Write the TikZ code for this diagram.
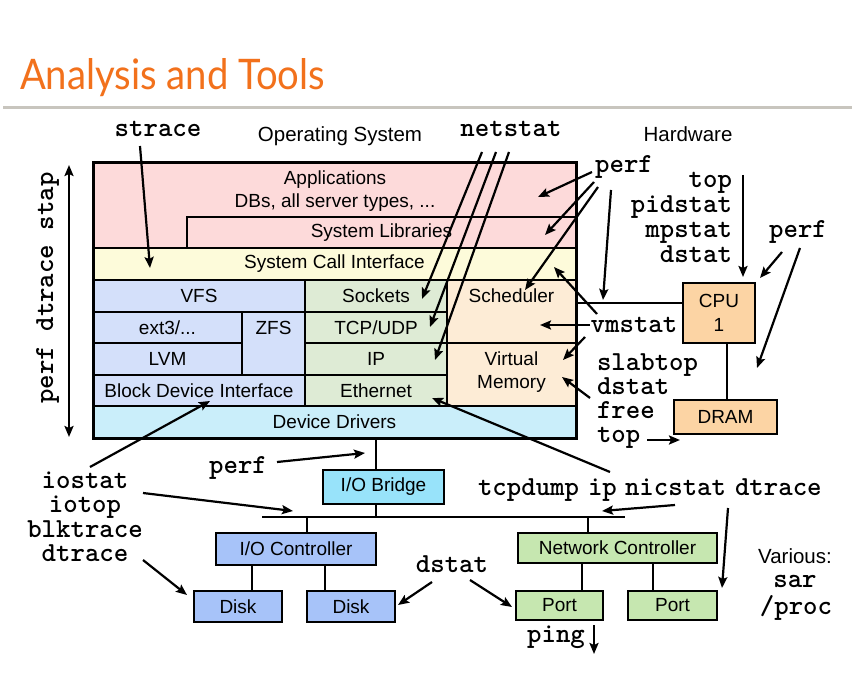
\documentclass[tikz,border=0pt]{standalone}
\usepackage{fontspec}
\setmainfont{Liberation Sans}
\newfontfamily\titlefam{Lato}
\usetikzlibrary{arrows.meta,calc}
\definecolor{cApp}{RGB}{253,218,218}
\definecolor{cSci}{RGB}{253,251,218}
\definecolor{cBlue}{RGB}{212,224,250}
\definecolor{cGreen}{RGB}{222,235,213}
\definecolor{cOrange}{RGB}{253,236,214}
\definecolor{cDD}{RGB}{202,238,250}
\definecolor{cHw}{RGB}{252,212,164}
\definecolor{cBridge}{RGB}{152,227,250}
\definecolor{cIO}{RGB}{167,195,249}
\definecolor{cNet}{RGB}{198,231,176}
\definecolor{titleorange}{RGB}{242,113,28}
\definecolor{rulegray}{RGB}{200,197,190}
\begin{document}
\begin{tikzpicture}[x=1pt,y=-1pt,
  every node/.style={inner sep=0pt,outer sep=0pt},
  sans/.style={font=\fontsize{19}{23}\selectfont},
  lbl/.style={font=\fontsize{20.5}{24}\selectfont},
  tool/.style={font=\fontsize{27.5}{24.5}\selectfont\ttfamily\bfseries},
  layer/.style={draw,line width=2pt,anchor=north west,sans},
  hwbox/.style={draw,line width=2.6pt,anchor=north west,sans},
  conn/.style={line width=2pt},
  arr/.style={line width=2.2pt,-{Stealth[length=11pt,width=9pt,inset=2pt]}},
  darr/.style={line width=2.2pt,{Stealth[length=11pt,width=9pt,inset=2pt]}-{Stealth[length=11pt,width=9pt,inset=2pt]}},
]
\path[use as bounding box] (0,0) rectangle (860,682);

% title
\node[anchor=base west,text=titleorange] (title) at (20,90) {\resizebox{305pt}{31pt}{\titlefam Analysis and Tools}};
\coordinate (ruleL) at (3,108);
\coordinate (ruleR) at (852,108);
\draw[line width=3pt,rulegray] (ruleL) -- (ruleR);

% headings
\node[lbl,anchor=base] (ostitle) at (340,142) {Operating System};
\node[lbl,anchor=base] (hwtitle) at (688,142) {Hardware};

% OS stack
\node[layer,fill=cApp,minimum width=483pt,minimum height=85pt] (apps) at (93,163) {};
\node[sans,align=center] (appstxt) at (335,191) {Applications\\DBs, all server types, ...};
\node[layer,fill=cApp,minimum width=389pt,minimum height=31pt] (syslib) at (187,217) {System Libraries};
\node[layer,fill=cSci,minimum width=483pt,minimum height=32pt] (sci) at (93,248) {System Call Interface};
\node[layer,fill=cBlue,minimum width=212pt,minimum height=32pt] (vfs) at (93,280) {VFS};
\node[layer,fill=cBlue,minimum width=149pt,minimum height=31pt] (ext3) at (93,312) {ext3/...};
\node[layer,fill=cBlue,minimum width=149pt,minimum height=32pt] (lvm) at (93,343) {LVM};
\node[layer,fill=cBlue,minimum width=63pt,minimum height=63pt] (zfs) at (242,312) {};
\node[sans] (zfstxt) at (273.5,328) {ZFS};
\node[layer,fill=cBlue,minimum width=212pt,minimum height=31pt] (bdi) at (93,375) {Block Device Interface};
\node[layer,fill=cGreen,minimum width=142pt,minimum height=32pt] (sockets) at (305,280) {Sockets};
\node[layer,fill=cGreen,minimum width=142pt,minimum height=31pt] (tcp) at (305,312) {TCP/UDP};
\node[layer,fill=cGreen,minimum width=142pt,minimum height=32pt] (ip) at (305,343) {IP};
\node[layer,fill=cGreen,minimum width=142pt,minimum height=31pt] (eth) at (305,375) {Ethernet};
\node[layer,fill=cOrange,minimum width=129pt,minimum height=63pt] (sched) at (447,280) {};
\node[sans] (schedtxt) at (511.5,296) {Scheduler};
\node[layer,fill=cOrange,minimum width=129pt,minimum height=63pt] (vm) at (447,343) {};
\node[sans,align=center] (vmtxt) at (511.5,372) {Virtual\\Memory};
\node[layer,fill=cDD,minimum width=483pt,minimum height=32pt] (dd) at (93,406) {Device Drivers};
\node[draw,line width=3pt,minimum width=483pt,minimum height=275pt,anchor=north west] (os) at (93,163) {};

% hardware
\node[hwbox,fill=cHw,minimum width=72pt,minimum height=60pt,align=center,font=\fontsize{19}{24}\selectfont] (cpu) at (683,283) {CPU\\1};
\node[hwbox,fill=cHw,minimum width=103pt,minimum height=34pt] (dram) at (674,400) {DRAM};
\node[hwbox,fill=cBridge,minimum width=121pt,minimum height=34pt] (bridge) at (323,470) {I/O Bridge};
\node[hwbox,fill=cIO,minimum width=160pt,minimum height=32pt] (ioc) at (216,533) {I/O Controller};
\node[hwbox,fill=cIO,minimum width=88pt,minimum height=31pt] (disk1) at (194,591) {Disk};
\node[hwbox,fill=cIO,minimum width=88pt,minimum height=31pt] (disk2) at (307,591) {Disk};
\node[hwbox,fill=cNet,minimum width=199pt,minimum height=30pt] (nc) at (518,533) {Network Controller};
\node[hwbox,fill=cNet,minimum width=87pt,minimum height=29pt] (port1) at (516,591) {Port};
\node[hwbox,fill=cNet,minimum width=89pt,minimum height=29pt] (port2) at (628,591) {Port};

% plain connections
\coordinate (schedlink) at (576,303);
\draw[conn] (schedlink) -- (schedlink -| cpu.west);
\coordinate (memx) at (727,0);
\draw[conn] (cpu.south -| memx) -- (dram.north -| memx);
\coordinate (bx) at (376,0);
\draw[conn] (dd.south -| bx) -- (bridge.north -| bx);
\coordinate (busL) at (262,517);
\coordinate (busR) at (625,517);
\draw[conn] (busL) -- (busR);
\draw[conn] (bridge.south -| bx) -- (busL -| bx);
\coordinate (iox) at (307,0);
\draw[conn] (busL -| iox) -- (ioc.north -| iox);
\coordinate (d1x) at (252,0);
\coordinate (d2x) at (325,0);
\draw[conn] (ioc.south -| d1x) -- (disk1.north -| d1x);
\draw[conn] (ioc.south -| d2x) -- (disk2.north -| d2x);
\coordinate (ncx) at (588,0);
\draw[conn] (busL -| ncx) -- (nc.north -| ncx);
\coordinate (p1x) at (582,0);
\coordinate (p2x) at (653,0);
\draw[conn] (nc.south -| p1x) -- (port1.north -| p1x);
\draw[conn] (nc.south -| p2x) -- (port2.north -| p2x);

% tool labels
\node[tool,anchor=base] (strace) at (158,137) {strace};
\node[tool,anchor=base] (netstat) at (511,137) {netstat};
\node[tool,anchor=base] (perfA) at (624,173) {perf};
\node[tool,anchor=base east] (topA) at (732,188) {top};
\node[tool,anchor=base east] (pidstat) at (732,212) {pidstat};
\node[tool,anchor=base east] (mpstat) at (732,237) {mpstat};
\node[tool,anchor=base east] (dstatA) at (732,262) {dstat};
\node[tool,anchor=base] (perfB) at (798,237) {perf};
\node[tool,anchor=base] (vmstat) at (634,332) {vmstat};
\node[tool,anchor=base west] (slabtop) at (597,370) {slabtop};
\node[tool,anchor=base west] (dstatB) at (597,394) {dstat};
\node[tool,anchor=base west] (free) at (597,418) {free};
\node[tool,anchor=base west] (topB) at (597,442) {top};
\node[tool,anchor=base] (iostat) at (85,488) {iostat};
\node[tool,anchor=base] (iotop) at (85,512) {iotop};
\node[tool,anchor=base] (blktrace) at (85,537) {blktrace};
\node[tool,anchor=base] (dtraceA) at (85,561) {dtrace};
\node[tool,anchor=base] (perfC) at (238,473) {perf};
\node[tool,anchor=base west] (tcpdump) at (478,495) {tcpdump};
\node[tool,anchor=base west] (iptool) at (588,495) {ip};
\node[tool,anchor=base west] (nicstat) at (625,495) {nicstat};
\node[tool,anchor=base west] (dtraceB) at (735,495) {dtrace};
\node[lbl,anchor=base] (various) at (795,563) {Various:};
\node[tool,anchor=base] (sar) at (795,587) {sar};
\node[tool,anchor=base] (proc) at (796,614) {/proc};
\node[tool,anchor=base] (dstatC) at (452,572) {dstat};
\node[tool,anchor=base] (ping) at (556,642) {ping};
\node[tool,anchor=base,rotate=90] (pds) at (53,288) {perf dtrace stap};

% arrow end points
\coordinate (a1s) at (140,146);  \coordinate (a1e) at (150,268);
\coordinate (n1s) at (482,152);  \coordinate (n1e) at (422,299);
\coordinate (n2s) at (496,152);  \coordinate (n2e) at (430,327);
\coordinate (n3s) at (509,152);  \coordinate (n3e) at (435,360);
\coordinate (p1s) at (592,172);  \coordinate (p1e) at (538,197);
\coordinate (p2s) at (594,182);  \coordinate (p2e) at (545,235);
\coordinate (p3s) at (598,187);  \coordinate (p3e) at (525,290);
\coordinate (p4s) at (611,190);  \coordinate (p4e) at (603,300);
\coordinate (t1s) at (743,175);  \coordinate (t1e) at (743,277);
\coordinate (r1s) at (782,252);  \coordinate (r1e) at (760,278);
\coordinate (r2s) at (800,248);  \coordinate (r2e) at (757,368);
\coordinate (v1s) at (590,325);  \coordinate (v1e) at (540,325);
\coordinate (v2s) at (597,314);  \coordinate (v2e) at (554,267);
\coordinate (v3s) at (585,337);  \coordinate (v3e) at (563,360);
\coordinate (s1s) at (590,398);  \coordinate (s1e) at (562,377);
\coordinate (tps) at (647,440);  \coordinate (tpe) at (680,440);
\coordinate (i1s) at (90,467);   \coordinate (i1e) at (210,401);
\coordinate (i2s) at (143,493);  \coordinate (i2e) at (293,511);
\coordinate (i3s) at (143,560);  \coordinate (i3e) at (187,595);
\coordinate (pcs) at (277,462);  \coordinate (pce) at (365,453);
\coordinate (tds) at (610,472);  \coordinate (tde) at (432,398);
\coordinate (ncs) at (675,505);  \coordinate (nce) at (602,511);
\coordinate (dts) at (728,508);  \coordinate (dte) at (722,588);
\coordinate (ds1s) at (432,582); \coordinate (ds1e) at (398,605);
\coordinate (ds2s) at (470,580); \coordinate (ds2e) at (512,607);
\coordinate (pgs) at (594,625);  \coordinate (pge) at (594,654);
\coordinate (lvt) at (69,165);   \coordinate (lvb) at (69,437);

\draw[arr] (a1s) -- (a1e);
\draw[arr] (n1s) -- (n1e);
\draw[arr] (n2s) -- (n2e);
\draw[arr] (n3s) -- (n3e);
\draw[arr] (p1s) -- (p1e);
\draw[arr] (p2s) -- (p2e);
\draw[arr] (p3s) -- (p3e);
\draw[arr] (p4s) -- (p4e);
\draw[arr] (t1s) -- (t1e);
\draw[arr] (r1s) -- (r1e);
\draw[arr] (r2s) -- (r2e);
\draw[arr] (v1s) -- (v1e);
\draw[arr] (v2s) -- (v2e);
\draw[arr] (v3s) -- (v3e);
\draw[arr] (s1s) -- (s1e);
\draw[arr] (tps) -- (tpe);
\draw[arr] (i1s) -- (i1e);
\draw[arr] (i2s) -- (i2e);
\draw[arr] (i3s) -- (i3e);
\draw[arr] (pcs) -- (pce);
\draw[arr] (tds) -- (tde);
\draw[arr] (ncs) -- (nce);
\draw[arr] (dts) -- (dte);
\draw[arr] (ds1s) -- (ds1e);
\draw[arr] (ds2s) -- (ds2e);
\draw[arr] (pgs) -- (pge);
\draw[darr] (lvt) -- (lvb);
\end{tikzpicture}
\end{document}
